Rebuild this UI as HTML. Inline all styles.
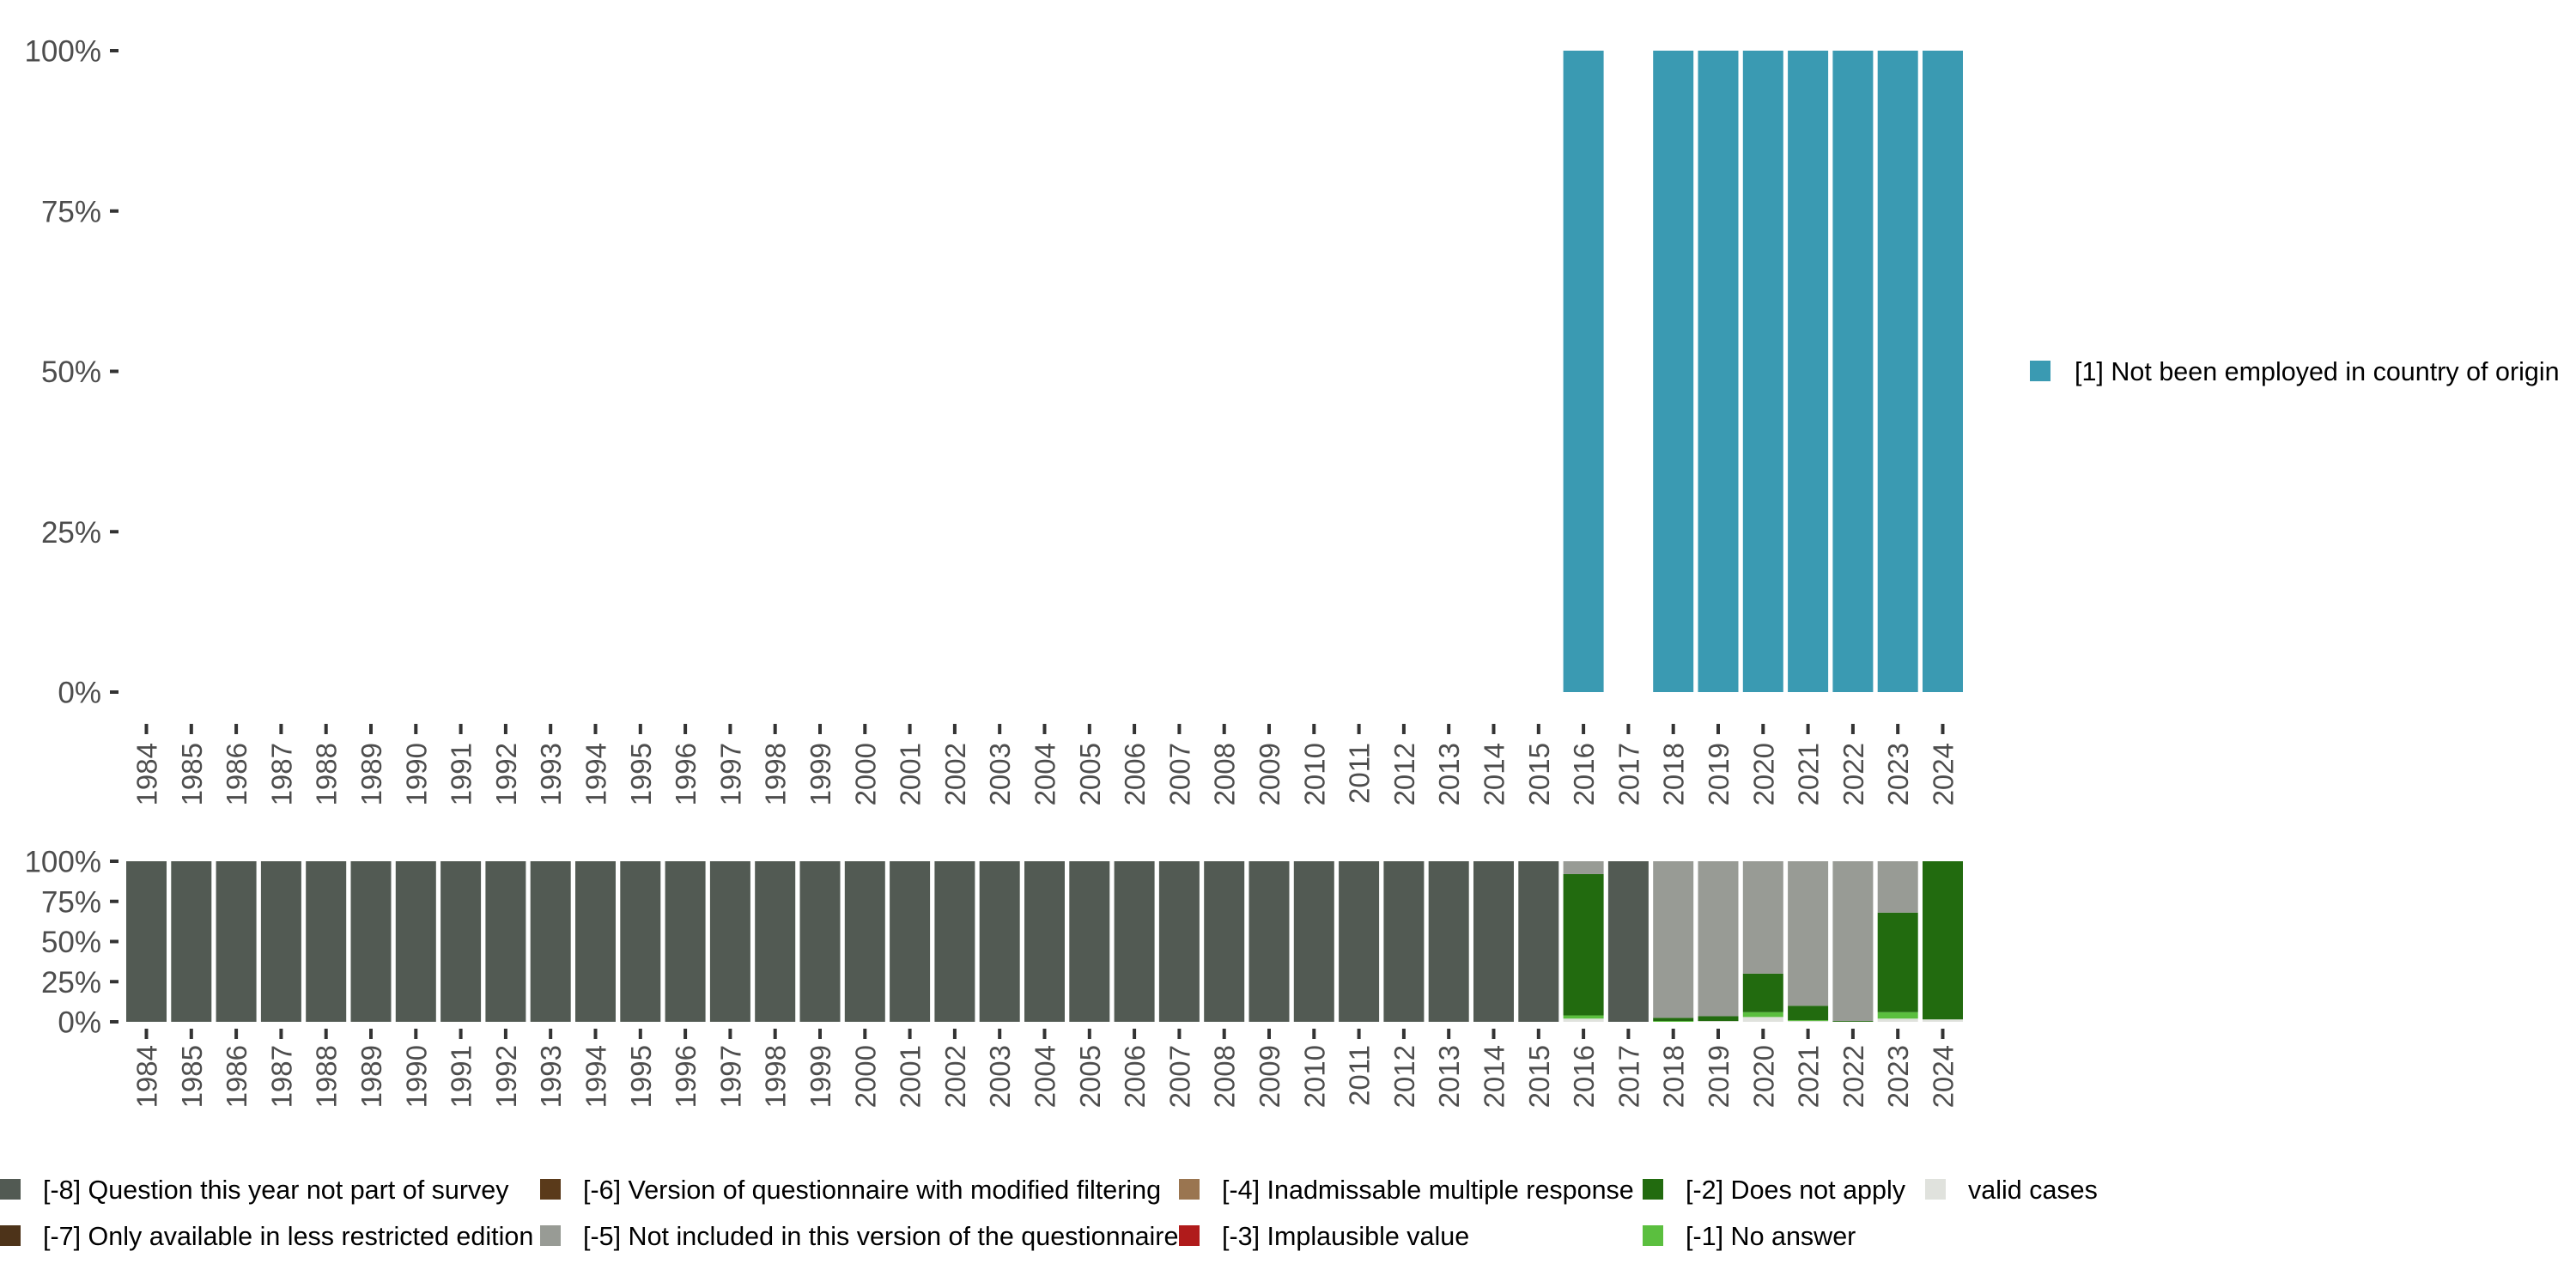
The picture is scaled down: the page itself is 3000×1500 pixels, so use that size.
<!DOCTYPE html>
<html><head><meta charset="utf-8"><style>
html,body{margin:0;padding:0;background:#fff;}
svg{display:block;font-family:"Liberation Sans","DejaVu Sans",sans-serif;}
</style></head><body>
<svg id="chart" width="3000" height="1500" viewBox="0 0 3000 1500" xmlns="http://www.w3.org/2000/svg"></svg>
<script>
const years = [];
for (let y = 1984; y <= 2024; y++) years.push(String(y));
const yTicks = [0, 25, 50, 75, 100];
const yTickLabels = ['0%', '25%', '50%', '75%', '100%'];
// top chart: share of [1]
const topYears = ['2016','2018','2019','2020','2021','2022','2023','2024'];
const topValues = [100,100,100,100,100,100,100,100];
// bottom chart shares per category (stacked from bottom)
const valid = [0,0,0,0,0,0,0,0,0,0,0,0,0,0,0,0,0,0,0,0,0,0,0,0,0,0,0,0,0,0,0,0, 2,0,0,0.5,3,0.5,0,2,1.5];
const noAnswer = [0,0,0,0,0,0,0,0,0,0,0,0,0,0,0,0,0,0,0,0,0,0,0,0,0,0,0,0,0,0,0,0, 2,0,0.5,0,3,0.5,0,4,0];
const doesNotApply = [0,0,0,0,0,0,0,0,0,0,0,0,0,0,0,0,0,0,0,0,0,0,0,0,0,0,0,0,0,0,0,0, 88,0,2,3,24,9,0.5,62,98.5];
const notIncluded = [0,0,0,0,0,0,0,0,0,0,0,0,0,0,0,0,0,0,0,0,0,0,0,0,0,0,0,0,0,0,0,0, 8,0,97.5,96.5,70,90,99.5,32,0];
const notPart = [100,100,100,100,100,100,100,100,100,100,100,100,100,100,100,100,100,100,100,100,100,100,100,100,100,100,100,100,100,100,100,100, 0,100,0,0,0,0,0,0,0];

const svg = document.getElementById('chart');
const NS = 'http://www.w3.org/2000/svg';
function mk(tag, attrs, parent) {
  const e = document.createElementNS(NS, tag);
  for (const k in attrs) e.setAttribute(k, attrs[k]);
  (parent || svg).appendChild(e);
  return e;
}
const x0 = 170.5, step = 52.3, bw = 47;
function xc(i) { return x0 + i * step; }
function yTop(v) { return 806 - v / 100 * 747; }
function yBot(v) { return 1190 - v / 100 * 187; }

function axes(yf, tickY, labelY, fs, name) {
  const g = mk('g', {});
  
  
  yTicks.forEach((t, i) => {
    const y = yf(t);
    const r = mk('rect', {x: 128, y: y - 2, width: 10, height: 4, fill: '#333'}, g);
    
    
    const tx = mk('text', {x: 118, y: y + fs * 0.36, 'font-size': fs, fill: '#4d4d4d', 'text-anchor': 'end'}, g);
    
    
    tx.textContent = yTickLabels[i];
  });
  years.forEach((yr, i) => {
    const x = xc(i);
    const r = mk('rect', {x: x - 2, y: tickY, width: 4, height: 12, fill: '#333'}, g);
    
    
    const tx = mk('text', {x: 0, y: 0, 'font-size': 33, fill: '#4d4d4d', 'text-anchor': 'end',
      transform: `translate(${x + 12},${labelY}) rotate(-90)`}, g);
    
    
    tx.textContent = yr;
  });
}
axes(yTop, 843, 865, 35, 'top');
axes(yBot, 1198, 1217, 35, 'bottom');

// top bars
topYears.forEach((yr, k) => {
  const i = years.indexOf(yr);
  const r = mk('rect', {x: xc(i) - bw / 2, y: yTop(topValues[k]), width: bw, height: yTop(0) - yTop(topValues[k]), fill: '#3a9ab2'});
  
  
});

// bottom stacked
const series = [
  ['valid', valid, '#e0e2dd'],
  ['no-answer', noAnswer, '#5bbf3f'],
  ['does-not-apply', doesNotApply, '#226b0f'],
  ['not-included', notIncluded, '#989b95'],
  ['not-part', notPart, '#525a53']
];
years.forEach((yr, i) => {
  let cum = 0;
  series.forEach(s => {
    const v = s[1][i];
    if (v > 0) {
      const r = mk('rect', {x: xc(i) - bw / 2, y: yBot(cum + v), width: bw, height: yBot(cum) - yBot(cum + v), fill: s[2]});
      
      
    }
    cum += v;
  });
});

// top legend
const lg = mk('g', {});


mk('rect', {x: 2364, y: 420, width: 24, height: 24, fill: '#3a9ab2'}, lg);
const lt = mk('text', {x: 2416, y: 443, 'font-size': 30.5, fill: '#000'}, lg);
lt.textContent = '[1] Not been employed in country of origin';

// bottom legend
const items = [
  [0, 1385, '#525a53', '[-8] Question this year not part of survey'],
  [0, 1439, '#4d3319', '[-7] Only available in less restricted edition'],
  [629, 1385, '#5a3a1a', '[-6] Version of questionnaire with modified filtering'],
  [629, 1439, '#989b95', '[-5] Not included in this version of the questionnaire'],
  [1373, 1385, '#9a7550', '[-4] Inadmissable multiple response'],
  [1373, 1439, '#b01b1b', '[-3] Implausible value'],
  [1913, 1385, '#226b0f', '[-2] Does not apply'],
  [1913, 1439, '#5bbf3f', '[-1] No answer'],
  [2242, 1385, '#e0e2dd', 'valid cases']
];
const bl = mk('g', {});


items.forEach(it => {
  const g = mk('g', {}, bl);
  
  
  mk('rect', {x: it[0], y: it[1] - 12, width: 24, height: 24, fill: it[2]}, g);
  const t = mk('text', {x: it[0] + 50, y: it[1] + 11, 'font-size': 30.5, fill: '#000'}, g);
  t.textContent = it[3];
});
</script>
</body></html>
